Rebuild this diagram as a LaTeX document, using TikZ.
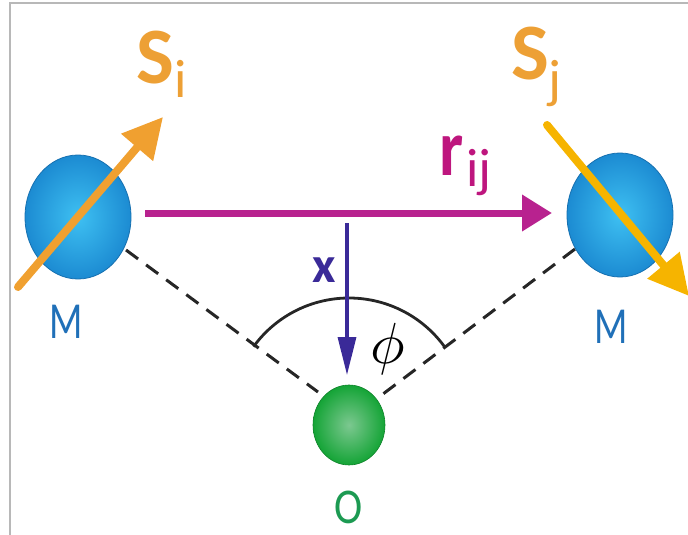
\documentclass[tikz,border=0pt]{standalone}
\usepackage{fontspec}
\usepackage{graphicx}
\usetikzlibrary{arrows.meta,shapes.geometric}
\newfontfamily\carl{Carlito}
\definecolor{frame}{HTML}{B8B8B8}
\definecolor{sphin}{HTML}{3EC0F2}
\definecolor{sphout}{HTML}{1C8BD2}
\definecolor{sphline}{HTML}{1670B0}
\definecolor{grin}{HTML}{7CC890}
\definecolor{grout}{HTML}{14A436}
\definecolor{orA}{HTML}{F0A030}
\definecolor{orB}{HTML}{F6B400}
\definecolor{orT}{HTML}{EDA035}
\definecolor{mag}{HTML}{B8228F}
\definecolor{magT}{HTML}{BE167E}
\definecolor{xblue}{HTML}{3A2A98}
\definecolor{mblue}{HTML}{2070B8}
\definecolor{ogreen}{HTML}{1C9A52}
\tikzset{
  atom/.style={ellipse, inner sep=0pt, shading=radial, inner color=sphin, outer color=sphout, draw=sphline, line width=0.8pt},
  oatom/.style={ellipse, inner sep=0pt, shading=radial, inner color=grin, outer color=grout, draw=grout!80!black, line width=0.6pt},
  spinA/.style={draw=orA, line width=8pt, line cap=round, -{Triangle[length=40pt,width=40pt]}},
  spinB/.style={draw=orB, line width=8pt, line cap=round, -{Triangle[length=40pt,width=40pt]}},
  rvec/.style={draw=mag, line width=7pt, -{Triangle[length=30pt,width=35pt]}},
  xvec/.style={draw=xblue, line width=3.2pt, -{Triangle[length=38pt,width=18pt]}},
  guide/.style={draw=black!85, line width=3pt, dash pattern=on 15pt off 10pt},
  bigS/.style={inner sep=0pt, anchor=base west, text=orT, font=\carl\bfseries\fontsize{80}{82}\selectfont},
  subS/.style={inner sep=0pt, anchor=base west, text=orT, font=\carl\fontsize{54}{56}\selectfont},
  mlab/.style={inner sep=0pt, anchor=base, text=mblue, font=\carl\fontsize{52}{54}\selectfont, xscale=0.75, transform shape},
}
\begin{document}
\begin{tikzpicture}[x=1pt,y=-1pt]
\useasboundingbox (0,0) rectangle (688,535);
\clip (0,0) rectangle (688,535);
% frame
\draw[frame, line width=1.5pt] (10,535) -- (10,3) -- (688,3);
% guide lines to O
\coordinate (gl) at (126,250);
\coordinate (glo) at (318,392);
\coordinate (gr) at (575,249);
\coordinate (gro) at (383,394);
\coordinate (apex) at (349,416);
\draw[guide] (gl) -- (glo);
\draw[guide] (gr) -- (gro);
\draw[black!85, line width=2.8pt] (apex) ++(-144:118) arc[start angle=-144, end angle=-36, radius=118];
% atoms
\node[atom, minimum width=106pt, minimum height=124pt] (Mi) at (78,217) {};
\node[atom, minimum width=106pt, minimum height=124pt] (Mj) at (620,215) {};
\node[oatom, minimum width=72pt, minimum height=80pt] (O) at (349,425) {};
% r_ij vector
\coordinate (ra) at (145,213);
\coordinate (rb) at (552,213);
\draw[rvec] (ra) -- (rb);
% x vector
\coordinate (xa) at (347,223);
\coordinate (xb) at (347,375);
\draw[xvec] (xa) -- (xb);
% spins
\coordinate (sia) at (18,287);
\coordinate (sib) at (163,117);
\draw[spinA] (sia) -- (sib);
\coordinate (sja) at (547,125);
\coordinate (sjb) at (689,296);
\draw[spinB] (sja) -- (sjb);
% labels
\node[bigS] (Si) at (136,83) {S};
\node[subS] (Sii) at (174,97) {i};
\node[bigS] (Sj) at (511,80) {S};
\node[subS] (Sjj) at (548,97) {j};
\node[inner sep=0pt, anchor=base west, text=magT, font=\carl\bfseries\fontsize{80}{82}\selectfont, xscale=0.85, transform shape] (r) at (439,175) {r};
\node[inner sep=0pt, anchor=base west, text=magT, font=\carl\fontsize{54}{56}\selectfont] (rij) at (466,186) {ij};
\node[inner sep=0pt, anchor=base, text=xblue, font=\carl\bfseries\fontsize{51}{53}\selectfont] (xl) at (324,282) {x};
\node[inner sep=0pt, anchor=center] (phi) at (388,349) {\scalebox{5.8}{$\phi$}};
\node[mlab] (ML) at (66,338) {M};
\node[mlab] (MR) at (611,343) {M};
\node[inner sep=0pt, anchor=base, text=ogreen, font=\carl\fontsize{50}{52}\selectfont, xscale=0.85, transform shape] (OL) at (349,523) {O};
\end{tikzpicture}
\end{document}
